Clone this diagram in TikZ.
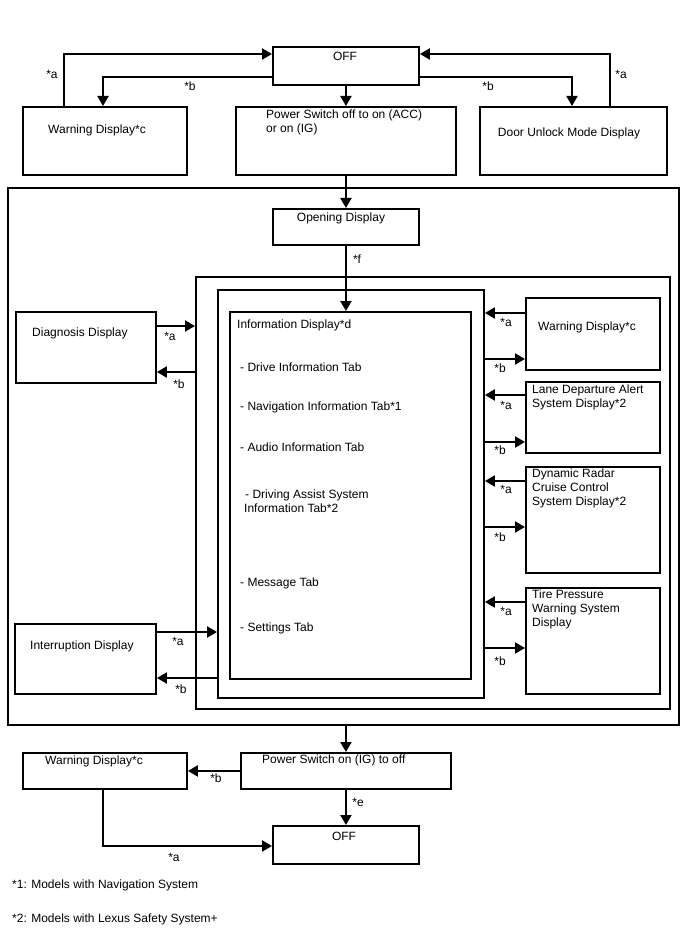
\documentclass[tikz,border=0pt]{standalone}
\usepackage{fontspec}
\setmainfont{Liberation Sans}
\usetikzlibrary{arrows.meta,calc}
\begin{document}
\begin{tikzpicture}[x=1pt,y=-1pt,
 box/.style={draw, line width=1.9pt, anchor=north west, inner sep=0pt},
 arr/.style={line width=2.1pt, -{Triangle[length=10pt,width=11pt]}},
 txt/.style={font=\fontsize{12}{14}\selectfont, inner sep=0pt, align=left},
 lbl/.style={font=\fontsize{12}{14}\selectfont, inner sep=0pt}]
\useasboundingbox (0,0) rectangle (688,949);
% boxes
\node[box, minimum width=146, minimum height=38] (off1) at (272,46) {};
\node[box, minimum width=164, minimum height=68] (warn1) at (22,106) {};
\node[box, minimum width=220, minimum height=68] (pwr1) at (235,106) {};
\node[box, minimum width=187, minimum height=68] (door) at (479,106) {};
\node[box, minimum width=671, minimum height=537] (outer) at (7,187) {};
\node[box, minimum width=146, minimum height=36] (open) at (272,208) {};
\node[box, minimum width=474, minimum height=432] (mid2) at (195,276) {};
\node[box, minimum width=266, minimum height=408] (mid3) at (217,289) {};
\node[box, minimum width=241, minimum height=367] (info) at (229,311) {};
\node[box, minimum width=140, minimum height=71] (diag) at (15,311) {};
\node[box, minimum width=141, minimum height=70] (intr) at (14,623) {};
\node[box, minimum width=134, minimum height=72] (rw) at (525,297) {};
\node[box, minimum width=134, minimum height=71] (rl) at (525,381) {};
\node[box, minimum width=134, minimum height=106] (rd) at (525,466) {};
\node[box, minimum width=134, minimum height=106] (rt) at (525,587) {};
\node[box, minimum width=210, minimum height=36] (pwr2) at (240,752) {};
\node[box, minimum width=164, minimum height=36] (warn2) at (22,752) {};
\node[box, minimum width=146, minimum height=38] (off2) at (272,825) {};
% texts
\node[txt] (t-off1) at (345,56) {OFF};
\node[txt, anchor=west] (t-warn1) at (48,130) {Warning Display*c};
\node[txt, anchor=north west] (t-pwr1) at (266,110) {Power Switch off to on (ACC)\\or on (IG)};
\node[txt] (t-door) at (569,133) {Door Unlock Mode Display};
\node[txt] (t-open) at (341,218) {Opening Display};
\node[txt, anchor=west] (t-info) at (237,325) {Information Display*d};
\node[txt, anchor=west] (t-i1) at (240,367) {- Drive Information Tab};
\node[txt, anchor=west] (t-i2) at (240,407) {- Navigation Information Tab*1};
\node[txt, anchor=west] (t-i3) at (240,447) {- Audio Information Tab};
\node[txt, anchor=north west] (t-i4) at (244,490) {\hspace{1pt}- Driving Assist System\\Information Tab*2};
\node[txt, anchor=west] (t-i5) at (240,583) {- Message Tab};
\node[txt, anchor=west] (t-i6) at (240,628) {- Settings Tab};
\node[txt, anchor=west] (t-diag) at (32,333) {Diagnosis Display};
\node[txt, anchor=west] (t-intr) at (30,646) {Interruption Display};
\node[txt, anchor=west] (t-rw) at (538,327) {Warning Display*c};
\node[txt, anchor=north west] (t-rl) at (532,385) {Lane Departure Alert\\System Display*2};
\node[txt, anchor=north west] (t-rd) at (532,469) {Dynamic Radar\\Cruise Control\\System Display*2};
\node[txt, anchor=north west] (t-rt) at (532,590) {Tire Pressure\\Warning System\\Display};
\node[txt, anchor=west] (t-pwr2) at (262,760) {Power Switch on (IG) to off};
\node[txt, anchor=west] (t-warn2) at (45,761) {Warning Display*c};
\node[txt] (t-off2) at (344,836) {OFF};
\node[txt, anchor=west] (fn1) at (12,885) {*1: Models with Navigation System};
\node[txt, anchor=west] (fn2) at (12,919) {*2: Models with Lexus Safety System+};
% top connectors
\draw[arr] ($(warn1.north west)+(42,0)$) |- ($(off1.north west)+(0,8)$);
\draw[arr] ($(off1.north west)+(0,31)$) -| ($(warn1.north west)+(81,0)$);
\draw[arr] (off1.south) -- (off1.south |- pwr1.north);
\draw[arr] ($(off1.north east)+(0,31)$) -| ($(door.north west)+(93,0)$);
\draw[arr] ($(door.north west)+(131,0)$) |- ($(off1.north east)+(0,8)$);
\draw[arr] (pwr1.south) -- (open.north);
\draw[arr] (open.south) -- (open.south |- info.north);
\node[lbl] (la1) at (52,74) {*a};
\node[lbl] (lb1) at (190,86) {*b};
\node[lbl] (lb2) at (488,86) {*b};
\node[lbl] (la2) at (621,74) {*a};
\node[lbl] (lf) at (357,259) {*f};
% left connectors
\coordinate (d1) at ($(diag.north east)+(0,15)$);
\coordinate (d2) at ($(diag.north east)+(0,61)$);
\draw[arr] (d1) -- (d1 -| mid2.west);
\draw[arr] (d2 -| mid2.west) -- (d2);
\coordinate (i1) at ($(intr.north east)+(0,9)$);
\coordinate (i2) at ($(intr.north east)+(0,55)$);
\draw[arr] (i1) -- (i1 -| mid3.west);
\draw[arr] (i2 -| mid3.west) -- (i2);
\node[lbl] (la3) at (170,336) {*a};
\node[lbl] (lb3) at (179,384) {*b};
\node[lbl] (la4) at (178,641) {*a};
\node[lbl] (lb4) at (181,689) {*b};
% right connectors
\foreach \r/\ya/\yb in {rw/16/62, rl/14/61, rd/15/61, rt/15/61}{
  \coordinate (\r a) at ($(\r.north west)+(0,\ya)$);
  \coordinate (\r b) at ($(\r.north west)+(0,\yb)$);
  \draw[arr] (\r a) -- (\r a -| mid3.east);
  \draw[arr] (\r b -| mid3.east) -- (\r b);
}
\node[lbl] (la5) at (506,322) {*a};
\node[lbl] (lb5) at (500,368) {*b};
\node[lbl] (la6) at (506,405) {*a};
\node[lbl] (lb6) at (500,450) {*b};
\node[lbl] (la7) at (506,489) {*a};
\node[lbl] (lb7) at (500,537) {*b};
\node[lbl] (la8) at (506,611) {*a};
\node[lbl] (lb8) at (500,661) {*b};
% bottom connectors
\draw[arr] (pwr2.north |- outer.south) -- (pwr2.north);
\draw[arr] (pwr2.west) -- (pwr2.west -| warn2.east);
\draw[arr] (pwr2.south) -- (off2.north);
\draw[arr] ($(warn2.south west)+(81,0)$) |- ($(off2.north west)+(0,21)$);
\node[lbl] (lb9) at (216,778) {*b};
\node[lbl] (le) at (358,802) {*e};
\node[lbl] (la9) at (174,857) {*a};
\end{tikzpicture}
\end{document}
